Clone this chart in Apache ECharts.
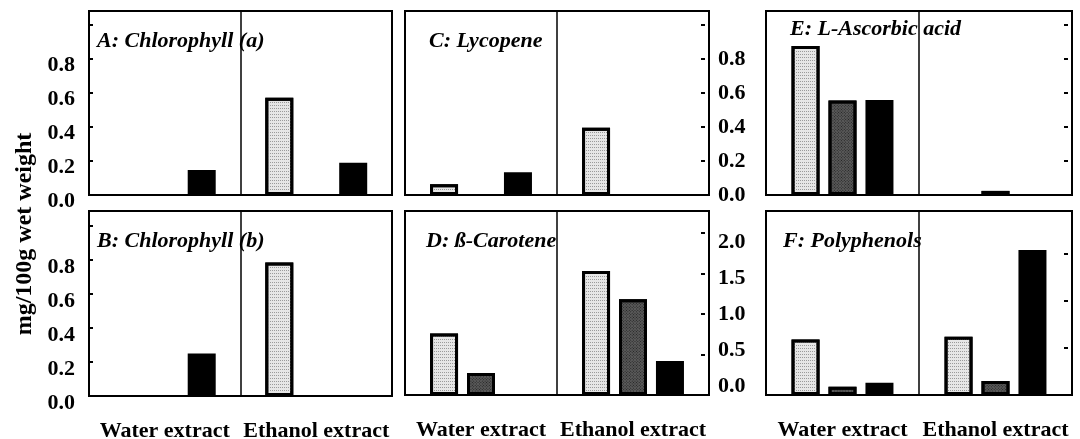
<!DOCTYPE html>
<html>
<head>
<meta charset="utf-8">
<script src="https://cdn.jsdelivr.net/npm/echarts@6/dist/echarts.min.js"></script>
<style>html,body{margin:0;padding:0;background:#fff}#chart{width:1080px;height:439px}</style>
</head>
<body>
<div id="chart"></div>
<script>
// ---------- data ----------
const categories = ['Water extract', 'Ethanol extract'];
const seriesNames = ['Fraction 1', 'Fraction 2', 'Fraction 3'];
const panelTitles = ['A: Chlorophyll (a)', 'B: Chlorophyll (b)', 'C: Lycopene', 'D: ß-Carotene', 'E: L-Ascorbic acid', 'F: Polyphenols'];
const yAxisTitle = 'mg/100g wet weight';
// each panel: [light dotted, dark hatched, black], each as [water, ethanol]
const chlorophyllA = [[null, 0.572], [null, null], [0.147, 0.19]];
const chlorophyllB = [[null, 0.785], [null, null], [0.25, null]];
const lycopene     = [[0.063, 0.396], [null, null], [0.134, null]];
const betaCarotene = [[0.76, 1.53], [0.27, 1.18], [null, 0.42]];
const ascorbicAcid = [[0.876, null], [0.555, 0.024], [0.559, null]];
const polyphenols  = [[0.59, 0.62], [0.088, 0.149], [0.13, 1.543]];
const axisMax = [1.082, 1.088, 1.082, 2.27, 1.082, 1.957];
const tickValues01 = [0.2, 0.4, 0.6, 0.8, 1.0];
const tickLabels01 = [0, 0.2, 0.4, 0.6, 0.8];
const tickValuesD = [0.5, 1, 1.5, 2];
const tickLabelsD = [0, 0.5, 1, 1.5, 2];
const tickValuesF = [0.5, 1, 1.5];

// ---------- layout / style ----------
const panels = [chlorophyllA, chlorophyllB, lycopene, betaCarotene, ascorbicAcid, polyphenols];
const FONT = '"Liberation Serif", "Times New Roman", serif';
const gridBoxes = [
  {left: 89, top: 11, width: 303, height: 184},
  {left: 89, top: 211, width: 303, height: 185},
  {left: 405, top: 11, width: 304, height: 184},
  {left: 405, top: 211, width: 304, height: 184},
  {left: 766, top: 11, width: 306, height: 184},
  {left: 766, top: 211, width: 306, height: 184}
];
const titlePos = [[97, 30], [97, 230], [429, 30], [426, 230], [790, 18], [783, 230]];
const barStyles = [
  {color: '#e6e6e6', borderColor: '#000', borderWidth: 3,
   decal: {symbol: 'rect', symbolSize: 1, color: '#9a9a9a', dashArrayX: [1, 1], dashArrayY: [1, 2], rotation: 0}},
  {color: '#5a5a5a', borderColor: '#000', borderWidth: 3,
   decal: {symbol: 'rect', symbolSize: 1, color: '#222', dashArrayX: [1, 1], dashArrayY: [1, 1], rotation: Math.PI / 4}},
  {color: '#000', borderColor: '#000', borderWidth: 3}
];
const labelFont = {fontFamily: FONT, fontWeight: 'bold', fontSize: 22, color: '#000'};
const fmt = v => Number(v).toFixed(1);

const grid = gridBoxes.map(b => Object.assign({
  show: true, borderColor: '#000', borderWidth: 2, backgroundColor: 'transparent',
  containLabel: false, outerBoundsMode: 'none'
}, b));

const xAxis = gridBoxes.map((b, i) => ({
  gridIndex: i, type: 'category', data: categories, boundaryGap: true,
  axisLine: {show: false}, axisTick: {show: false},
  splitLine: {show: true, lineStyle: {color: '#000', width: 1.5}},
  axisLabel: Object.assign({show: i % 2 === 1, margin: 24, interval: 0}, labelFont)
}));

function tickAxis(i, pos, ticks, labels, extra) {
  return Object.assign({
    gridIndex: i, type: 'value', min: 0, max: axisMax[i], position: pos,
    offset: pos === 'right' ? -4 : 0,
    axisLine: {show: false},
    splitLine: {show: false},
    axisTick: {show: true, inside: true, length: 4, customValues: ticks, lineStyle: {color: '#000', width: 2}},
    axisLabel: labels ? Object.assign({show: true, customValues: labels, formatter: fmt, margin: pos === 'right' ? 13 : 14}, labelFont) : {show: false}
  }, extra || {});
}

const yAxis = [
  tickAxis(0, 'left', tickValues01, tickLabels01),
  tickAxis(1, 'left', tickValues01, tickLabels01),
  tickAxis(2, 'right', tickValues01, tickLabels01),
  tickAxis(3, 'right', tickValuesD, null),
  tickAxis(4, 'right', tickValues01, null),
  tickAxis(5, 'right', tickValuesF, null),
  // label-only axis for panel D (its printed labels sit on a slightly different spacing)
  {
    gridIndex: 3, type: 'value', min: -0.125, max: 2.4306, position: 'left', offset: -304,
    axisLine: {show: false}, splitLine: {show: false}, axisTick: {show: false},
    axisLabel: Object.assign({show: true, inside: true, customValues: tickLabelsD, formatter: fmt, margin: 9}, labelFont)
  }
];
// A/B printed labels sit a little below their ticks in the original
yAxis[0].axisLabel.verticalAlign = 'top';
yAxis[0].axisLabel.lineHeight = 13;
yAxis[1].axisLabel.verticalAlign = 'top';
yAxis[1].axisLabel.lineHeight = 14;

const series = [];
panels.forEach((panel, p) => {
  panel.forEach((vals, s) => {
    series.push({
      type: 'bar', name: seriesNames[s], xAxisIndex: p, yAxisIndex: p,
      data: vals, barWidth: 28, barGap: '32%', itemStyle: barStyles[s], silent: true
    });
  });
});

const title = panelTitles.map((t, i) => ({
  text: t, left: titlePos[i][0], top: titlePos[i][1], padding: 0,
  textStyle: {fontFamily: FONT, fontStyle: 'italic', fontWeight: 'bold', fontSize: 22, lineHeight: 22, color: '#000'}
}));

const chart = echarts.init(document.getElementById('chart'), null, {renderer: 'canvas'});
chart.setOption({
  animation: false,
  backgroundColor: '#fff',
  title, grid, xAxis, yAxis, series,
  graphic: [{
    type: 'text', x: 25, y: 234, rotation: Math.PI / 2,
    style: {text: yAxisTitle, font: 'bold 24px ' + FONT, fill: '#000', align: 'center', verticalAlign: 'middle'}
  }]
});
</script>
</body>
</html>
